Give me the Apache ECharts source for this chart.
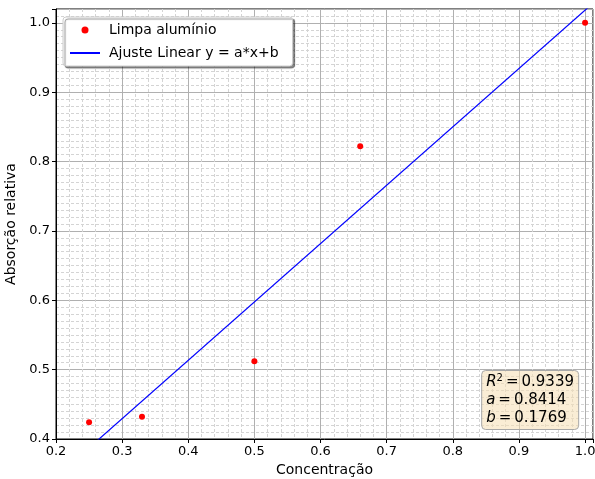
<!DOCTYPE html>
<html><head><meta charset="utf-8">
<script src="https://cdn.jsdelivr.net/npm/echarts@6/dist/echarts.min.js"></script>
<style>html,body{margin:0;padding:0;background:#fff}#c{width:595px;height:479px}</style>
</head><body><div id="c"></div>
<script>
const pointX = [0.25, 0.33, 0.50, 0.66, 1.00];
const pointY = [0.424, 0.432, 0.512, 0.822, 1.000];
const fitX = [0.20, 1.012];
const fitY = [0.3452, 1.0284];
const statsText = ['0.9339', '0.8414', '0.1769'];
const seriesNames = ['Limpa alumínio', 'Ajuste Linear y = a*x+b'];
const FONT = 'DejaVu Sans';

const fmt = v => Math.abs(v * 10 - Math.round(v * 10)) < 1e-6 ? v.toFixed(1) : '';
const chart = echarts.init(document.getElementById('c'), null, {renderer: 'canvas'});
const axisCommon = {
  type: 'value',
  axisLine: {show: true, onZero: false, lineStyle: {color: '#000', width: 1}},
  axisTick: {show: true, length: 4, lineStyle: {color: '#000'}},
  axisLabel: {color: '#000', fontFamily: FONT, fontSize: 13, formatter: fmt, margin: 6},
  splitLine: {show: true, lineStyle: {color: '#b0b0b0', width: 1}},
  minorSplitLine: {show: true, lineStyle: {color: '#d4d4d4', width: 1, type: [3, 2]}},
  nameLocation: 'middle',
  nameTextStyle: {color: '#000', fontFamily: FONT, fontSize: 14}
};
const eq = '\u2009=\u2009';
chart.setOption({
  animation: false,
  grid: {left: 56, right: 2, top: 9, bottom: 40, show: true, borderColor: '#000', borderWidth: 1, containLabel: false, outerBoundsMode: 'none'},
  xAxis: Object.assign({}, axisCommon, {min: 0.2, max: 1.012, interval: 0.1, minorTick: {show: false, splitNumber: 5}, name: 'Concentração', nameGap: 24}),
  yAxis: Object.assign({}, axisCommon, {min: 0.4, max: 1.02, interval: 0.1, minorTick: {show: false, splitNumber: 10}, name: 'Absorção relativa', nameGap: 38}),
  legend: {
    orient: 'vertical', left: 63, top: 17,
    data: [{name: seriesNames[0], icon: 'circle'}, {name: seriesNames[1], itemStyle: {opacity: 0}}],
    itemWidth: 30, itemHeight: 7, itemGap: 9,
    textStyle: {fontFamily: FONT, fontSize: 14, color: '#000', padding: [0, 0, 0, 4]},
    backgroundColor: '#fff', borderColor: '#cccccc', borderWidth: 1, borderRadius: 3,
    padding: [6, 14, 6, 6],
    shadowColor: 'rgba(0,0,0,0.45)', shadowOffsetX: 2, shadowOffsetY: 2, shadowBlur: 1
  },
  title: {
    right: 16, bottom: 49,
    backgroundColor: 'rgba(245,222,179,0.55)', borderColor: '#a8a8a8', borderWidth: 1, borderRadius: 4,
    padding: [3, 5, 3, 5],
    text: '{i|R}{s|2}{n|' + eq + statsText[0] + '}\n{i|a}{n|' + eq + statsText[1] + '}\n{i|b}{n|' + eq + statsText[2] + '}',
    textStyle: {
      fontFamily: FONT, fontSize: 15, fontWeight: 'normal', color: '#000', lineHeight: 18,
      rich: {
        i: {fontFamily: FONT, fontStyle: 'italic', fontSize: 15, color: '#000', lineHeight: 18},
        s: {fontFamily: FONT, fontSize: 10, color: '#000', verticalAlign: 'top', lineHeight: 18, padding: [0, 0, 6, 0]},
        n: {fontFamily: FONT, fontSize: 15, color: '#000', lineHeight: 18}
      }
    }
  },
  series: [
    {name: seriesNames[0], type: 'scatter', data: pointX.map((x, i) => [x, pointY[i]]), symbol: 'circle', symbolSize: 6, itemStyle: {color: '#ff0000', opacity: 1}, z: 5},
    {name: seriesNames[1], type: 'line', data: fitX.map((x, i) => [x, fitY[i]]), symbol: 'none', clip: true, lineStyle: {color: '#0000ff', width: 1.2}, itemStyle: {color: '#0000ff'}, z: 4}
  ]
});
</script></body></html>
